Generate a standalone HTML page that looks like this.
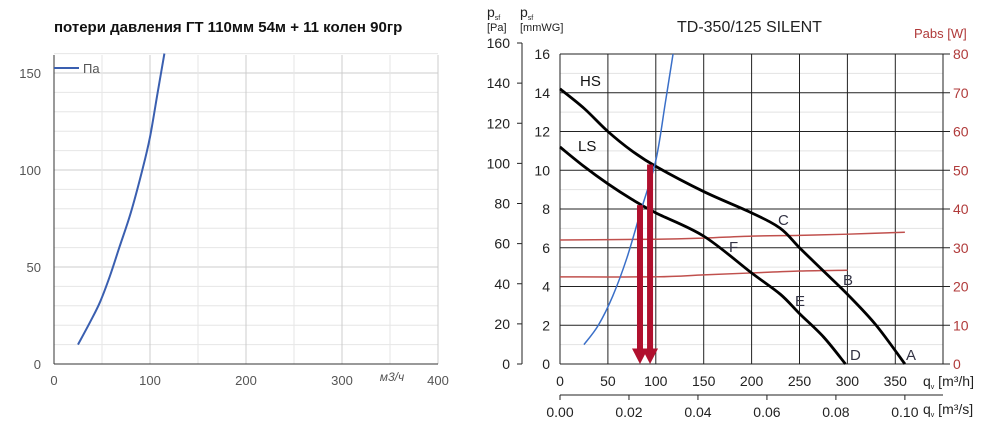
<!DOCTYPE html>
<html><head><meta charset="utf-8"><style>
body{margin:0;background:#fff;width:1000px;height:428px;overflow:hidden;font-family:"Liberation Sans","DejaVu Sans",sans-serif}
svg{position:absolute;left:0;top:0}
</style></head><body>
<svg width="1000" height="428" id="svg">
<text x="54" y="32" font-size="15" font-weight="bold" fill="#111">потери давления ГТ 110мм 54м + 11 колен 90гр</text>
<text x="677" y="32" font-size="16" fill="#222">TD-350/125 SILENT</text>
<text x="914" y="38" font-size="13" fill="#b03a3a">Pabs [W]</text>
<text x="487" y="17" font-size="14" fill="#222">p<tspan font-size="7" dy="3">sf</tspan></text>
<text x="487" y="31" font-size="11" fill="#222">[Pa]</text>
<text x="520" y="17" font-size="14" fill="#222">p<tspan font-size="7" dy="3">sf</tspan></text>
<text x="520" y="31" font-size="11" fill="#222">[mmWG]</text>
<text x="923" y="386" font-size="14" fill="#222">q<tspan font-size="7" dy="3">v</tspan><tspan dy="-3"> [m³/h]</tspan></text>
<text x="923" y="414" font-size="14" fill="#222">q<tspan font-size="7" dy="3">v</tspan><tspan dy="-3"> [m³/s]</tspan></text>
<g id="L"></g><g id="R"></g>
</svg>
<script>
// Left chart data
const leftQ=[25,38,48,58,68,80,92,100,108,115];
const leftPa=[10,22,32,45,60,78,100,117,140,160];
const leftXTicks=[0,100,200,300,400];
const leftYTicks=[0,50,100,150];
// Right chart data (x in m3/h, y in mmWG)
const hsQ=[0,25,50,75,100,150,200,230,250,275,300,330,360];
const hsP=[14.2,13.2,12,11,10.2,8.9,7.8,7,6,4.8,3.6,2,0];
const lsQ=[0,25,50,75,100,150,200,230,250,275,298];
const lsP=[11.2,10.2,9.3,8.5,7.8,6.6,4.7,3.6,2.6,1.4,0];
const pHsQ=[0,100,150,200,250,300,360];
const pHsW=[32,32.2,32.5,33,33.2,33.5,34];
const pLsQ=[0,100,150,200,250,300];
const pLsW=[22.5,22.5,23,23.5,24,24.2];
const sysQ=[25,40,55,70,85,100,110,118];
const sysP=[1,2,3.5,5.5,8,10.5,13.5,16];
const arrowQ=[83.5,94];
const arrowP=[8.2,10.3];
const rXTicks=[0,50,100,150,200,250,300,350];
const rYTicks=[0,2,4,6,8,10,12,14,16];
const paTicks=[0,20,40,60,80,100,120,140,160];
const wTicks=[0,10,20,30,40,50,60,70,80];
const m3sTicks=["0.00","0.02","0.04","0.06","0.08","0.10"];
const NS="http://www.w3.org/2000/svg";
function mk(p,t,a,txt){const e=document.createElementNS(NS,t);for(const k in a)e.setAttribute(k,a[k]);if(txt!==undefined)e.textContent=txt;p.appendChild(e);return e;}
function smooth(pts){let d=`M${pts[0][0]},${pts[0][1]}`;for(let i=0;i<pts.length-1;i++){const p0=pts[i-1]||pts[i],p1=pts[i],p2=pts[i+1],p3=pts[i+2]||p2;
d+=` C${p1[0]+(p2[0]-p0[0])/6},${p1[1]+(p2[1]-p0[1])/6} ${p2[0]-(p3[0]-p1[0])/6},${p2[1]-(p3[1]-p1[1])/6} ${p2[0]},${p2[1]}`;}return d;}
const L=document.getElementById('L'),R=document.getElementById('R');
const lx=v=>54+v*(384/400), ly=v=>364-v*(291/150);
for(let v=0;v<=160;v+=10){const e=mk(L,'line',{x1:54,x2:438,y1:ly(v),y2:ly(v),stroke:v%50==0?'#ccc':'#e6e6e6','stroke-width':1});
}
for(let v=50;v<=400;v+=50){const e=mk(L,'line',{x1:lx(v),x2:lx(v),y1:55,y2:364,stroke:v%100==0?'#ccc':'#e6e6e6'});
}
let e=mk(L,'line',{x1:54,x2:54,y1:55,y2:364,stroke:'#333'});
e=mk(L,'line',{x1:54,x2:438,y1:364,y2:364,stroke:'#333'});
leftXTicks.forEach(v=>{const t=mk(L,'text',{x:lx(v),y:385,'font-size':13,fill:'#555','text-anchor':'middle'},v);
});
leftYTicks.forEach(v=>{const t=mk(L,'text',{x:41,y:ly(v)+5,'font-size':13,fill:'#555','text-anchor':'end'},v);
});
e=mk(L,'text',{x:392,y:381,'font-size':12,fill:'#555','font-style':'italic','text-anchor':'middle'},'м3/ч');
e=mk(L,'line',{x1:54,x2:79,y1:68,y2:68,stroke:'#3a5fb0','stroke-width':2});
e=mk(L,'text',{x:83,y:73,'font-size':13,fill:'#555'},'Па');
e=mk(L,'path',{d:smooth(leftQ.map((q,i)=>[lx(q),ly(leftPa[i])])),fill:'none',stroke:'#3a5fb0','stroke-width':2});

const rx=v=>560+v*0.958, ry=v=>364-v*(310/16), rw=v=>364-v*(310/80), rpa=v=>364-v*(321/160);
for(let v=1;v<16;v+=2){const g=mk(R,'line',{x1:560,x2:943,y1:ry(v),y2:ry(v),stroke:'#e2e2e2'});}
rYTicks.forEach(v=>{const g=mk(R,'line',{x1:560,x2:943,y1:ry(v),y2:ry(v),stroke:'#222','stroke-width':1});

const t=mk(R,'text',{x:550,y:ry(v)+5,'font-size':14,fill:'#222','text-anchor':'end'},v);
});
rXTicks.forEach(v=>{const g=mk(R,'line',{x1:rx(v),x2:rx(v),y1:54,y2:364,stroke:'#222'});

const t=mk(R,'text',{x:rx(v),y:386,'font-size':14,fill:'#222','text-anchor':'middle'},v);
});
e=mk(R,'line',{x1:943,x2:943,y1:54,y2:364,stroke:'#222'});
e=mk(R,'line',{x1:522,x2:522,y1:43,y2:364,stroke:'#222'});
paTicks.forEach(v=>{mk(R,'line',{x1:517,x2:522,y1:rpa(v),y2:rpa(v),stroke:'#222'});
const t=mk(R,'text',{x:510,y:rpa(v)+5,'font-size':14,fill:'#222','text-anchor':'end'},v);
});
wTicks.forEach(v=>{mk(R,'line',{x1:943,x2:950,y1:rw(v),y2:rw(v),stroke:'#222'});
const t=mk(R,'text',{x:953,y:rw(v)+5,'font-size':14,fill:'#b03a3a'},v);
});
e=mk(R,'line',{x1:560,x2:943,y1:395,y2:395,stroke:'#222'});
m3sTicks.forEach(s=>{const v=parseFloat(s)*3600;mk(R,'line',{x1:rx(v),x2:rx(v),y1:395,y2:400,stroke:'#222'});
const t=mk(R,'text',{x:rx(v),y:417,'font-size':14,fill:'#222','text-anchor':'middle'},s);
});
const pl=(xs,ys,f,st,w,n)=>{const g=mk(R,'path',{d:smooth(xs.map((q,i)=>[rx(q),f(ys[i])])),fill:'none',stroke:st,'stroke-width':w});};
pl(pHsQ,pHsW,rw,'#c0504d',1.5,'power-hs-curve');
pl(pLsQ,pLsW,rw,'#c0504d',1.5,'power-ls-curve');
pl(hsQ,hsP,ry,'#000',2.8,'fan-hs-curve');
pl(lsQ,lsP,ry,'#000',2.8,'fan-ls-curve');
pl(sysQ,sysP,ry,'#3a6fc8',1.5,'system-curve');
arrowQ.forEach((q,i)=>{const x=rx(q);
const g=mk(R,'path',{d:`M${x-3},${ry(arrowP[i])} L${x+3},${ry(arrowP[i])} L${x+3},${ry(0.8)} L${x+8},${ry(0.8)} L${x},${ry(0)} L${x-8},${ry(0.8)} L${x-3},${ry(0.8)} Z`,fill:'#b0102e'});
});
[["HS",580,86,'#111'],["LS",578,151,'#111'],["C",778,225,'#334'],["F",729,252,'#334'],["B",843,285,'#334'],["E",795,306,'#334'],["D",850,360,'#334'],["A",906,360,'#334']].forEach(a=>{
const t=mk(R,'text',{x:a[1],y:a[2],'font-size':15,fill:a[3]},a[0]);});
</script>
</body></html>
